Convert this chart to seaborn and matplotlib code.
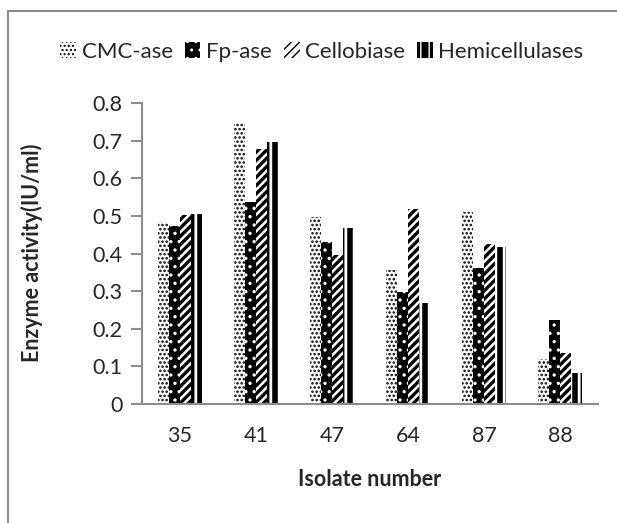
import matplotlib
matplotlib.use("Agg")
import matplotlib.pyplot as plt
import seaborn as sns
import pandas as pd
from matplotlib.patches import Rectangle

# ============================================================
# Data
# ============================================================

isolates = ["35", "41", "47", "64", "87", "88"]
enzymes = ["CMC-ase", "Fp-ase", "Cellobiase", "Hemicellulases"]

cmc_ase = [0.485, 0.748, 0.498, 0.356, 0.509, 0.119]
fp_ase = [0.474, 0.536, 0.430, 0.297, 0.361, 0.222]
cellobiase = [0.503, 0.678, 0.396, 0.518, 0.426, 0.135]
hemicellulases = [0.505, 0.697, 0.467, 0.268, 0.416, 0.083]

y_ticks = [0, 0.1, 0.2, 0.3, 0.4, 0.5, 0.6, 0.7, 0.8]

df = pd.DataFrame({
    "Isolate": isolates * 4,
    "Enzyme": [e for e in enzymes for _ in isolates],
    "Activity": cmc_ase + fp_ase + cellobiase + hemicellulases,
})

# ============================================================
# Plot
# ============================================================

sns.set_style("white")
plt.rcParams["font.family"] = ["Lato", "DejaVu Sans"]
plt.rcParams["hatch.linewidth"] = 1.0

fig = plt.figure(figsize=(6.17, 5.23), dpi=100)
ax = fig.add_axes([142 / 617, 119 / 523, 456 / 617, 301 / 523])

sns.barplot(
    data=df, x="Isolate", y="Activity", hue="Enzyme",
    order=isolates, hue_order=enzymes,
    palette=["white"] * 4, width=0.58, gap=0,
    errorbar=None, ax=ax, legend=True,
)

# pattern fills like the original
styles = [
    dict(face="white", edge="black", hatch="....", hlw=1.2),
    dict(face="black", edge="white", hatch="..", hlw=1.2),
    dict(face="white", edge="black", hatch="////", hlw=2.4),
    dict(face="black", edge="white", hatch="||", hlw=2.0),
]

for cont, st in zip(ax.containers, styles):
    for bar in cont:
        bar.set_facecolor(st["face"])
        bar.set_edgecolor(st["edge"])
        bar.set_hatch(st["hatch"])
        bar.set_linewidth(0)
        if hasattr(bar, "set_hatch_linewidth"):
            bar.set_hatch_linewidth(st["hlw"])

handles = []
for st in styles:
    h = Rectangle((0, 0), 1, 1, facecolor=st["face"], edgecolor=st["edge"],
                  hatch=st["hatch"], linewidth=0)
    if hasattr(h, "set_hatch_linewidth"):
        h.set_hatch_linewidth(st["hlw"])
    handles.append(h)

ax.legend_.remove()
fig.legend(handles, enzymes, loc="center", bbox_to_anchor=(322 / 617, 1 - 52 / 523),
           ncol=4, frameon=False, fontsize=16, handlelength=0.7, handleheight=0.7,
           handletextpad=0.25, columnspacing=0.55, borderpad=0)

ax.set_ylim(0, 0.8)
ax.set_yticks(y_ticks)
ax.set_yticklabels(["0" if v == 0 else f"{v:.1f}" for v in y_ticks])
ax.set_xlim(-0.5, len(isolates) - 0.5)

for s in ["top", "right"]:
    ax.spines[s].set_visible(False)
for s in ["left", "bottom"]:
    ax.spines[s].set_color("#8c8c8c")
    ax.spines[s].set_linewidth(1.5)

ax.tick_params(axis="y", direction="out", length=8, width=1.5, color="#8c8c8c",
               labelsize=15.5, pad=6, left=True)
ax.tick_params(axis="x", length=0, labelsize=15.5, pad=16)

ax.set_xlabel("")
ax.set_ylabel("")
fig.text(370 / 617, 1 - 480 / 523, "Isolate number", ha="center", va="center",
         fontsize=15.5, fontweight="bold")
fig.text(32 / 617, 1 - 253 / 523, "Enzyme activity(IU/ml)", ha="center", va="center",
         rotation=90, fontsize=15.5, fontweight="bold")

# outer chart frame
fig.patches.append(Rectangle((8 / 617, -0.05), 1.2, 1 - 11 / 523 + 0.05,
                             transform=fig.transFigure, fill=False,
                             edgecolor="#8c8c8c", linewidth=1.5))

fig.savefig("out.png", dpi=100)
